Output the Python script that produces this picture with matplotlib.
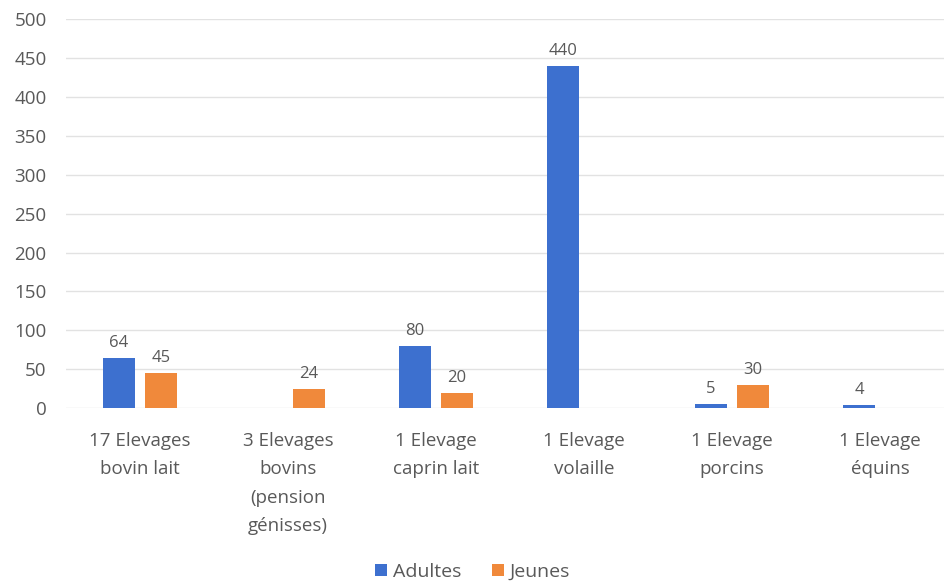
import numpy as np
import matplotlib.pyplot as plt

plt.rcParams['font.family'] = ['Open Sans', 'DejaVu Sans']

categories = ['17 Elevages\nbovin lait', '3 Elevages\nbovins\n(pension\ngénisses)',
              '1 Elevage\ncaprin lait', '1 Elevage\nvolaille',
              '1 Elevage\nporcins', '1 Elevage\néquins']
adultes = [64, np.nan, 80, 440, 5, 4]
jeunes = [45, 24, 20, np.nan, 30, np.nan]

blue = '#3d70cf'
orange = '#f0893b'
grey = '#595959'

fig = plt.figure(figsize=(9.45, 5.83), dpi=100)
ax = fig.add_axes([66 / 945, 0.300, 6 * 148 / 945, 0.667])

x = np.arange(len(categories))
w = 0.216
off = 0.142
b1 = ax.bar(x - off, adultes, w, color=blue, label='Adultes', zorder=3)
b2 = ax.bar(x + off, jeunes, w, color=orange, label='Jeunes', zorder=3)

for bars, vals in ((b1, adultes), (b2, jeunes)):
    for bar, v in zip(bars, vals):
        if np.isnan(v):
            continue
        ax.annotate(f'{int(v)}', (bar.get_x() + bar.get_width() / 2, v),
                    xytext=(0, 5), textcoords='offset points',
                    ha='center', va='bottom', fontsize=12, color=grey)

ax.set_xlim(-0.5, 5.5)
ax.set_ylim(0, 500)
ax.set_yticks(range(0, 501, 50))
ax.set_xticks(x)
ax.set_xticklabels(categories, fontsize=13.5, color=grey, linespacing=1.75)
ax.tick_params(axis='y', labelsize=13.5, labelcolor=grey, length=0, pad=14)
ax.tick_params(axis='x', length=0, pad=17)
ax.grid(axis='y', color='#e2e2e2', linewidth=1, zorder=0)
for s in ax.spines.values():
    s.set_visible(False)

fig.legend(handles=[b1, b2], loc='center', bbox_to_anchor=(0.5, 1 - 572 / 583),
           ncol=2, frameon=False, fontsize=14, labelcolor=grey,
           handlelength=0.6, handleheight=0.6, handletextpad=0.3, columnspacing=1.6)

fig.savefig('out.png', dpi=100)
